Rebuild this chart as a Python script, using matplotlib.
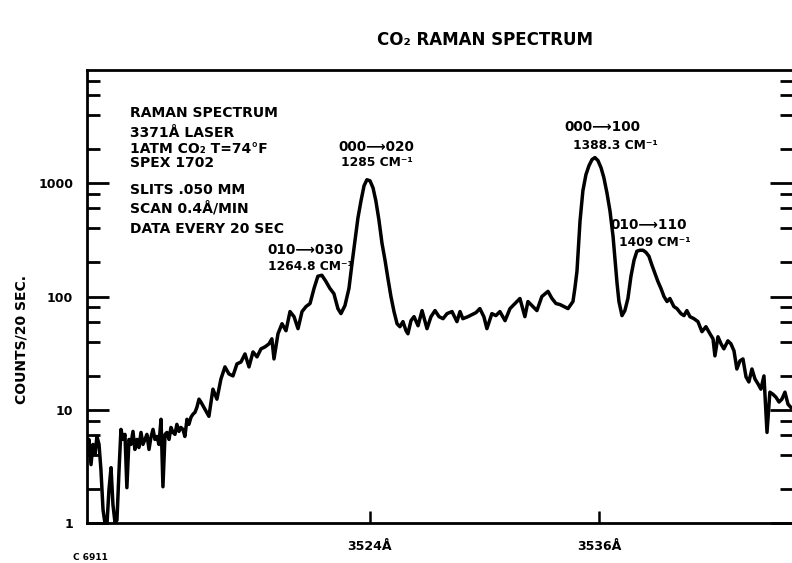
import matplotlib
matplotlib.use("Agg")
import matplotlib.pyplot as plt
from matplotlib.ticker import LogLocator, NullFormatter, FixedLocator, FixedFormatter

# spectrum: wavelength (Angstrom) vs counts per 20 s
wavelength = [
    3509.17, 3509.27, 3509.38, 3509.48, 3509.59, 3509.69, 3509.80, 3509.90, 3510.01, 3510.11,
    3510.22, 3510.32, 3510.43, 3510.53, 3510.64, 3510.74, 3510.85, 3510.95, 3511.06, 3511.16,
    3511.26, 3511.37, 3511.47, 3511.58, 3511.68, 3511.79, 3511.89, 3512.00, 3512.10, 3512.21,
    3512.31, 3512.42, 3512.52, 3512.63, 3512.73, 3512.84, 3512.94, 3513.05, 3513.15, 3513.26,
    3513.36, 3513.47, 3513.57, 3513.68, 3513.78, 3513.88, 3513.99, 3514.09, 3514.20, 3514.30,
    3514.41, 3514.51, 3514.62, 3514.72, 3514.83, 3514.93, 3515.04, 3515.14, 3515.35, 3515.56,
    3515.77, 3515.98, 3516.19, 3516.40, 3516.61, 3516.82, 3517.03, 3517.24, 3517.45, 3517.66,
    3517.87, 3518.08, 3518.29, 3518.50, 3518.71, 3518.86, 3518.97, 3519.18, 3519.39, 3519.60,
    3519.81, 3520.02, 3520.23, 3520.44, 3520.65, 3520.86, 3521.07, 3521.27, 3521.48, 3521.69,
    3521.90, 3522.11, 3522.32, 3522.48, 3522.69, 3522.90, 3523.06, 3523.21, 3523.37, 3523.53,
    3523.69, 3523.84, 3524.00, 3524.16, 3524.31, 3524.47, 3524.63, 3524.79, 3524.94, 3525.10,
    3525.26, 3525.42, 3525.57, 3525.73, 3525.89, 3525.99, 3526.15, 3526.31, 3526.52, 3526.73,
    3526.99, 3527.20, 3527.41, 3527.62, 3527.83, 3528.04, 3528.30, 3528.56, 3528.72, 3528.87,
    3529.14, 3529.35, 3529.56, 3529.76, 3529.97, 3530.13, 3530.39, 3530.60, 3530.81, 3531.08,
    3531.34, 3531.60, 3531.86, 3532.12, 3532.28, 3532.54, 3532.75, 3533.01, 3533.33, 3533.54,
    3533.75, 3533.96, 3534.17, 3534.38, 3534.64, 3534.74, 3534.85, 3535.01, 3535.16, 3535.32,
    3535.48, 3535.64, 3535.79, 3535.95, 3536.11, 3536.26, 3536.42, 3536.58, 3536.74, 3536.84,
    3536.95, 3537.05, 3537.21, 3537.36, 3537.52, 3537.68, 3537.84, 3537.99, 3538.15, 3538.31,
    3538.46, 3538.62, 3538.78, 3538.94, 3539.09, 3539.25, 3539.41, 3539.57, 3539.72, 3539.93,
    3540.09, 3540.30, 3540.46, 3540.61, 3540.77, 3540.98, 3541.19, 3541.40, 3541.61, 3541.82,
    3541.98, 3542.08, 3542.24, 3542.40, 3542.55, 3542.76, 3542.92, 3543.08, 3543.23, 3543.39,
    3543.55, 3543.71, 3543.86, 3544.02, 3544.18, 3544.34, 3544.49, 3544.65, 3544.81, 3544.96,
    3545.12, 3545.28, 3545.44, 3545.59, 3545.75, 3545.91, 3546.06,
]
counts = [
    4.46, 5.47, 3.28, 4.94, 4.02, 5.81, 4.94, 2.96, 1.31, 1.0,
    1.0, 1.96, 3.08, 1.45, 1.0, 1.06, 2.96, 6.71, 5.47, 6.06,
    2.05, 5.47, 4.94, 6.44, 4.46, 5.47, 4.64, 6.31, 4.94, 5.47,
    6.06, 4.46, 5.70, 6.71, 5.47, 5.81, 4.94, 8.24, 2.09, 6.06,
    6.31, 5.47, 6.98, 6.31, 6.06, 7.43, 6.44, 6.98, 6.71, 5.81,
    8.24, 7.43, 8.58, 9.12, 9.50, 10.5, 12.4, 11.7, 10.1, 8.75,
    15.2, 12.4, 18.7, 23.9, 20.7, 19.9, 25.4, 26.4, 31.1, 23.9,
    32.4, 29.3, 34.5, 35.9, 38.2, 42.3, 28.1, 46.9, 57.5, 49.9,
    73.6, 66.4, 52.0, 73.6, 81.5, 86.7, 118, 151, 154, 136,
    118, 106, 78.2, 70.6, 83.2, 118, 196, 308, 494, 699,
    950, 1074, 1052, 912, 699, 474, 296, 209, 145, 100,
    73.6, 57.5, 54.1, 60.0, 49.9, 46.9, 61.2, 66.4, 55.2, 75.1,
    52.0, 66.4, 75.1, 66.4, 63.7, 70.6, 73.6, 60.0, 73.6, 63.7,
    66.4, 69.2, 72.1, 78.2, 66.4, 52.0, 70.6, 67.8, 73.6, 61.2,
    78.2, 86.7, 96.0, 66.4, 90.3, 81.5, 75.1, 100, 111, 96.0,
    86.7, 84.9, 81.5, 78.2, 90.3, 118, 167, 464, 858, 1191,
    1431, 1618, 1686, 1585, 1374, 1119, 824, 570, 341, 218,
    131, 90.3, 67.8, 75.1, 96.0, 151, 209, 251, 256, 256,
    246, 227, 189, 160, 136, 118, 100, 90.3, 96.0, 81.5,
    78.2, 70.6, 67.8, 75.1, 66.4, 63.7, 60.0, 48.9, 54.1, 46.9,
    42.3, 29.9, 44.1, 38.2, 34.5, 40.6, 38.2, 33.1, 22.9, 27.0,
    28.1, 19.5, 17.6, 22.9, 18.7, 16.9, 15.2, 19.9, 6.31, 14.3,
    13.7, 12.9, 11.7, 12.4, 14.3, 11.2, 10.5,
]

x_ticks = [3524, 3536]
x_tick_labels = ["3524Å", "3536Å"]
y_ticks = [1, 10, 100, 1000]
y_tick_labels = ["1", "10", "100", "1000"]

notes = [
    "RAMAN SPECTRUM",
    "3371Å LASER",
    "1ATM CO₂ T=74°F",
    "SPEX 1702",
    "SLITS .050 MM",
    "SCAN 0.4Å/MIN",
    "DATA EVERY 20 SEC",
]
peak_names = ["010⟶030", "000⟶020", "000⟶100", "010⟶110"]
peak_shifts = ["1264.8 CM⁻¹", "1285 CM⁻¹", "1388.3 CM⁻¹", "1409 CM⁻¹"]

W, H = 792, 563
FONT = dict(family="DejaVu Sans", fontweight="bold", color="black")


def fx(x):
    return x / W


def fy(y):
    return 1 - y / H


fig = plt.figure(figsize=(W / 100, H / 100), dpi=100)
ax = fig.add_axes([fx(87), fy(523), fx(792) - fx(87), fy(70) - fy(523)])

ax.plot(wavelength, counts, color="black", lw=2.5, solid_joinstyle="round")

ax.set_yscale("log")
ax.set_xlim(3509.17, 3546.12)
ax.set_ylim(1, 10000)

# spines: heavy left/bottom/top, no visible right one
for side in ["left", "bottom", "top"]:
    ax.spines[side].set_linewidth(2.0)
ax.spines["right"].set_visible(False)

ax.xaxis.set_major_locator(FixedLocator(x_ticks))
ax.xaxis.set_major_formatter(FixedFormatter(x_tick_labels))
ax.yaxis.set_major_locator(FixedLocator(y_ticks))
ax.yaxis.set_major_formatter(FixedFormatter(y_tick_labels))
ax.yaxis.set_minor_locator(LogLocator(base=10, subs=[2, 4, 6, 8]))
ax.yaxis.set_minor_formatter(NullFormatter())

ax.tick_params(axis="x", which="major", direction="in", length=9, width=1.8,
               pad=12, labelsize=9, top=False)
ax.tick_params(axis="y", which="major", direction="in", length=16, width=2.0,
               pad=10, labelsize=9, left=True, right=True)
ax.tick_params(axis="y", which="minor", direction="in", length=9, width=2.0,
               left=True, right=True)
for lab in ax.get_xticklabels() + ax.get_yticklabels():
    lab.set_fontweight("bold")
    lab.set_family("DejaVu Sans")

# title and axis label
fig.text(fx(485), fy(40), "CO₂ RAMAN SPECTRUM", ha="center", va="center",
         fontsize=12, **FONT)
fig.text(fx(22), fy(340), "COUNTS/20 SEC.", rotation=90, ha="center",
         va="center", fontsize=10, **FONT)
fig.text(fx(73), fy(557), "C 6911", ha="left", va="center", fontsize=6.5, **FONT)

# run conditions block
note_y = [113, 133, 149, 163, 190, 208, 229]
for txt, yy in zip(notes, note_y):
    fig.text(fx(130), fy(yy), txt, ha="left", va="center", fontsize=10, **FONT)

# peak assignments
name_pos = [(306, 250), (376, 147), (602, 127), (649, 225)]
shift_pos = [(311, 266), (377, 162), (615, 146), (655, 242)]
for name, shift, (nx, ny), (sx, sy) in zip(peak_names, peak_shifts, name_pos, shift_pos):
    fig.text(fx(nx), fy(ny), name, ha="center", va="center", fontsize=9.8, **FONT)
    fig.text(fx(sx), fy(sy), shift, ha="center", va="center", fontsize=8.8, **FONT)

fig.savefig("out.png", dpi=100, facecolor="white")
